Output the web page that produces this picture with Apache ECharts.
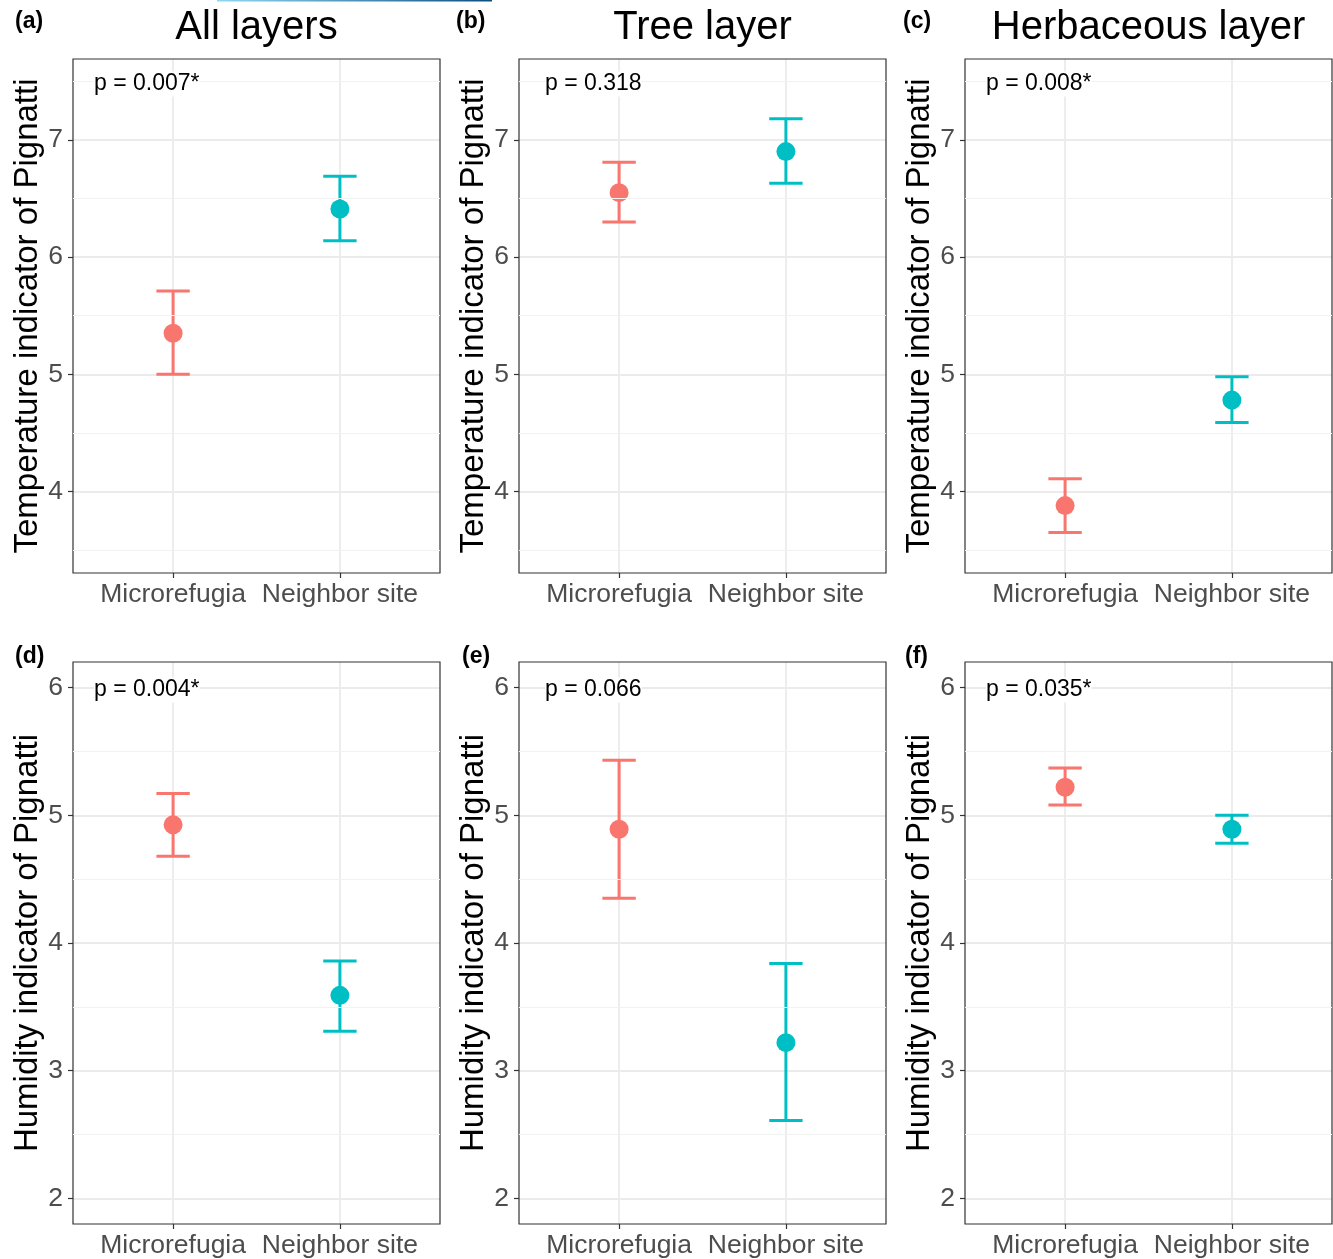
<!DOCTYPE html>
<html>
<head>
<meta charset="utf-8">
<script src="https://cdn.jsdelivr.net/npm/echarts@6/dist/echarts.min.js"></script>
<style>
  html, body { margin: 0; padding: 0; background: #fff; }
  #chart { width: 1333px; height: 1259px; }
</style>
</head>
<body>
<div id="chart"></div>
<script>
// ---------- data ----------
const categories = ['Microrefugia', 'Neighbor site'];
const panelTitles = ['All layers', 'Tree layer', 'Herbaceous layer'];
const panelLetters = ['(a)', '(b)', '(c)', '(d)', '(e)', '(f)'];
const pValues = ['p = 0.007*', 'p = 0.318', 'p = 0.008*', 'p = 0.004*', 'p = 0.066', 'p = 0.035*'];
const yTitles = ['Temperature indicator of Pignatti', 'Humidity indicator of Pignatti'];

const tempTicks = [4, 5, 6, 7];
const tempMinorTicks = [3.5, 4.5, 5.5, 6.5, 7.5];
const humTicks = [2, 3, 4, 5, 6];
const humMinorTicks = [2.5, 3.5, 4.5, 5.5];

// Temperature indicator (mean, lower, upper) per category
const tempAllMean = [5.35, 6.41];
const tempAllLower = [5.00, 6.14];
const tempAllUpper = [5.71, 6.69];
const tempTreeMean = [6.55, 6.90];
const tempTreeLower = [6.30, 6.63];
const tempTreeUpper = [6.81, 7.18];
const tempHerbMean = [3.88, 4.78];
const tempHerbLower = [3.65, 4.59];
const tempHerbUpper = [4.11, 4.98];

// Humidity indicator (mean, lower, upper) per category
const humAllMean = [4.925, 3.59];
const humAllLower = [4.68, 3.31];
const humAllUpper = [5.17, 3.86];
const humTreeMean = [4.89, 3.22];
const humTreeLower = [4.35, 2.61];
const humTreeUpper = [5.43, 3.84];
const humHerbMean = [5.22, 4.89];
const humHerbLower = [5.08, 4.78];
const humHerbUpper = [5.37, 5.00];

const groupColors = ['#F8766D', '#00BFC4'];

// ---------- layout ----------
const FONT = 'Liberation Sans, Arial, Helvetica, sans-serif';
const colLeft = [73, 519, 965];
const plotW = 367;
const rowTop = [59, 662];
const rowH = [514, 563];
const rowRange = [[3.305, 7.69], [1.8, 6.2]];
const letterX = [15, 456, 903, 15, 462, 905];
const letterY = [22, 657];
const pX = [94, 545, 986, 94, 545, 986];
const pY = [84, 690];

const panels = [
  { mean: tempAllMean, lower: tempAllLower, upper: tempAllUpper },
  { mean: tempTreeMean, lower: tempTreeLower, upper: tempTreeUpper },
  { mean: tempHerbMean, lower: tempHerbLower, upper: tempHerbUpper },
  { mean: humAllMean, lower: humAllLower, upper: humAllUpper },
  { mean: humTreeMean, lower: humTreeLower, upper: humTreeUpper },
  { mean: humHerbMean, lower: humHerbLower, upper: humHerbUpper }
];

const grids = [], xAxes = [], yAxes = [], series = [], graphics = [];

function renderErrorBar(params, api) {
  const x = api.value(0), lo = api.value(1), hi = api.value(2);
  const ci = api.value(3);
  const pLo = api.coord([x, lo]);
  const pHi = api.coord([x, hi]);
  const half = api.coord([x + 0.1, lo])[0] - pLo[0];
  const style = { stroke: groupColors[ci], lineWidth: 3, fill: null };
  return {
    type: 'group',
    children: [
      { type: 'line', shape: { x1: pLo[0], y1: pHi[1], x2: pLo[0], y2: pLo[1] }, style: style },
      { type: 'line', shape: { x1: pLo[0] - half, y1: pHi[1], x2: pLo[0] + half, y2: pHi[1] }, style: style },
      { type: 'line', shape: { x1: pLo[0] - half, y1: pLo[1], x2: pLo[0] + half, y2: pLo[1] }, style: style }
    ]
  };
}

panels.forEach(function (p, i) {
  const row = Math.floor(i / 3), col = i % 3;
  const ticks = row === 0 ? tempTicks : humTicks;
  const minor = row === 0 ? tempMinorTicks : humMinorTicks;
  const catPos = categories.map(function (c, k) { return k + 1; });

  grids.push({
    left: colLeft[col], top: rowTop[row], width: plotW, height: rowH[row],
    show: true, borderColor: '#333333', borderWidth: 1.2, backgroundColor: 'transparent', z: 5
  });
  xAxes.push({
    type: 'value', gridIndex: i, min: 0.4, max: 2.6,
    axisLine: { show: false },
    axisTick: { show: true, customValues: catPos, length: 5, lineStyle: { color: '#333333', width: 1.2 } },
    axisLabel: {
      customValues: catPos, margin: 8, fontSize: 26.5, color: '#4d4d4d', fontFamily: FONT,
      formatter: function (v) { return categories[Math.round(v) - 1]; }
    },
    splitLine: { show: true, lineStyle: { color: '#ebebeb', width: 1.8 } },
    minorSplitLine: { show: false }
  });
  yAxes.push({
    type: 'value', gridIndex: i, min: rowRange[row][0], max: rowRange[row][1],
    name: yTitles[row], nameLocation: 'middle', nameGap: 28,
    nameTextStyle: { fontSize: 33, color: '#000000', fontFamily: FONT },
    axisLine: { show: false },
    axisTick: { show: true, customValues: ticks, length: 5, lineStyle: { color: '#333333', width: 1.2 } },
    axisLabel: { customValues: ticks, margin: 10, fontSize: 26.5, color: '#4d4d4d', fontFamily: FONT },
    splitLine: { show: true, lineStyle: { color: '#ebebeb', width: 1.8 } }
  });
  // minor horizontal gridlines
  series.push({
    type: 'line', xAxisIndex: i, yAxisIndex: i, data: [], silent: true, z: 1,
    markLine: {
      silent: true, symbol: ['none', 'none'], label: { show: false },
      lineStyle: { color: '#f2f2f2', width: 1, type: 'solid' },
      emphasis: { disabled: true },
      data: minor.map(function (v) { return { yAxis: v }; })
    }
  });
  series.push({
    type: 'custom', xAxisIndex: i, yAxisIndex: i, z: 3,
    renderItem: renderErrorBar,
    encode: { x: 0, y: [1, 2] },
    data: categories.map(function (c, k) { return [k + 1, p.lower[k], p.upper[k], k]; })
  });
  series.push({
    type: 'scatter', xAxisIndex: i, yAxisIndex: i, z: 4, symbolSize: 19,
    data: categories.map(function (c, k) {
      return { value: [k + 1, p.mean[k]], itemStyle: { color: groupColors[k], opacity: 1 } };
    })
  });

  graphics.push({
    type: 'text', x: letterX[i], y: letterY[row], z: 100,
    style: { text: panelLetters[i], font: 'bold 23px ' + FONT, fill: '#000', verticalAlign: 'middle', textVerticalAlign: 'middle' }
  });
  graphics.push({
    type: 'text', x: pX[i], y: pY[row], z: 100,
    style: {
      text: pValues[i], font: '23px ' + FONT, fill: '#000',
      backgroundColor: '#ffffff', padding: [1, 0, 1, 0],
      textVerticalAlign: 'middle', verticalAlign: 'middle'
    }
  });
});

panelTitles.forEach(function (t, col) {
  graphics.push({
    type: 'text', x: colLeft[col] + plotW / 2, y: 28, z: 100,
    style: { text: t, font: '40px ' + FONT, fill: '#000', align: 'center', verticalAlign: 'middle', textAlign: 'center', textVerticalAlign: 'middle' }
  });
});

// thin coloured strip along the very top edge
graphics.push({
  type: 'rect', z: 100, shape: { x: 217, y: 0, width: 275, height: 1.5 },
  style: { fill: new echarts.graphic.LinearGradient(0, 0, 1, 0, [
    { offset: 0, color: '#8fd8f2' }, { offset: 1, color: '#0b4f80' }
  ]) }
});

const chart = echarts.init(document.getElementById('chart'), null, { renderer: 'canvas' });
chart.setOption({
  animation: false,
  backgroundColor: '#ffffff',
  grid: grids,
  xAxis: xAxes,
  yAxis: yAxes,
  series: series,
  graphic: graphics
});
</script>
</body>
</html>
